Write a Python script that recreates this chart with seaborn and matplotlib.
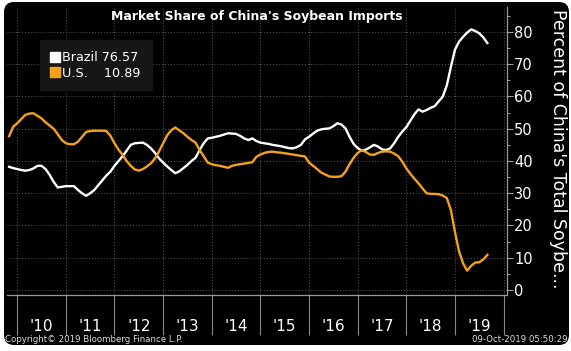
import numpy as np
import pandas as pd
import seaborn as sns
import matplotlib.pyplot as plt
from matplotlib.lines import Line2D
from matplotlib.patches import FancyBboxPatch
from matplotlib.ticker import FixedLocator, NullFormatter
from matplotlib.transforms import IdentityTransform

# monthly share of China's soybean imports (%), Oct 2009 .. Aug 2019
months = pd.date_range("2009-10-31", "2019-08-31", freq="ME")

brazil = [
    38.2, 37.8, 37.5,
    37.2, 37.0, 37.2, 37.7, 38.5, 38.5, 37.5, 35.7, 33.5, 31.8, 32.0, 32.2,
    32.2, 32.2, 31.0, 30.0, 29.2, 30.0, 31.0, 32.5, 34.0, 35.5, 36.7, 38.5,
    40.0, 41.5, 43.2, 45.0, 45.5, 45.6, 45.7, 45.0, 43.9, 42.5, 40.8, 39.5,
    38.3, 37.2, 36.2, 36.8, 37.8, 38.8, 40.0, 41.0, 43.4, 45.5, 47.0, 47.2,
    47.5, 47.8, 48.2, 48.6, 48.5, 48.4, 47.8, 47.0, 46.5, 47.0, 46.2, 45.7,
    45.5, 45.3, 45.0, 44.8, 44.6, 44.3, 44.0, 43.9, 44.3, 45.0, 46.7, 47.5,
    48.5, 49.4, 49.8, 50.0, 50.1, 50.8, 51.7, 51.3, 50.1, 47.5, 45.3, 44.0,
    43.2, 43.5, 44.2, 45.0, 44.5, 43.6, 43.4, 43.9, 45.5, 47.5, 49.1, 50.5,
    52.5, 54.5, 56.0, 55.3, 55.8, 56.5, 57.0, 58.5, 60.0, 63.5, 69.2, 74.5,
    77.0, 78.5, 79.8, 80.8, 80.3, 79.6, 78.3, 76.57,
]

us = [
    47.7, 50.6, 51.7,
    53.0, 54.3, 54.7, 54.8, 54.0, 53.2, 52.0, 51.0, 50.0, 48.3, 46.5, 45.5,
    45.2, 45.2, 46.0, 47.5, 49.0, 49.3, 49.4, 49.4, 49.4, 49.3, 47.8, 45.5,
    43.5, 41.9, 40.0, 38.5, 37.4, 37.0, 37.5, 38.3, 39.3, 40.8, 43.0, 45.5,
    48.0, 49.5, 50.4, 49.5, 48.6, 47.5, 46.5, 45.7, 43.4, 41.5, 39.5, 39.0,
    38.7, 38.5, 38.2, 37.9, 38.5, 38.8, 39.0, 39.2, 39.4, 39.6, 41.3, 42.0,
    42.5, 42.8, 42.9, 42.7, 42.6, 42.4, 42.2, 42.0, 41.8, 41.6, 41.4, 39.5,
    38.5, 37.5, 36.4, 35.8, 35.2, 35.1, 35.1, 35.3, 36.7, 39.0, 41.0, 42.5,
    43.4, 42.8, 42.0, 41.9, 42.5, 42.9, 43.0, 42.9, 42.3, 41.5, 39.8, 37.7,
    36.0, 34.5, 33.1, 31.5, 30.0, 29.8, 29.8, 29.7, 29.3, 28.5, 24.8, 18.0,
    12.0, 8.3, 6.0, 7.5, 8.5, 8.6, 9.5, 10.89,
]

years = list(range(2010, 2021))
year_labels = ["'10", "'11", "'12", "'13", "'14", "'15", "'16", "'17", "'18", "'19"]
countries = ["Brazil", "U.S."]
colors = {"Brazil": "#ffffff", "U.S.": "#f5a21b"}

t = months.year + months.month / 12.0
df = pd.concat([
    pd.DataFrame({"t": t, "share": brazil, "country": "Brazil"}),
    pd.DataFrame({"t": t, "share": us, "country": "U.S."}),
])

fig = plt.figure(figsize=(5.71, 3.51), dpi=100, facecolor="white")
# rounded black terminal background
bg = FancyBboxPatch((4, 6), 565, 343, boxstyle="round,pad=0,rounding_size=10",
                    transform=IdentityTransform(), facecolor="black",
                    edgecolor="none", zorder=-5)
fig.patches.append(bg)

ax = fig.add_axes([7 / 571, 56 / 351, 500 / 571, 288 / 351])
ax.set_zorder(2)
ax.set_facecolor("black")

sns.lineplot(data=df, x="t", y="share", hue="country", palette=colors,
             linewidth=1.7, legend=False, ax=ax)

ax.set_xlim(2009.79, 2020.07)
ax.set_ylim(-1.55, 87.75)

# x axis: separators at year starts, labels mid-year
ax.xaxis.set_major_locator(FixedLocator(years))
ax.xaxis.set_major_formatter(NullFormatter())
ax.xaxis.set_minor_locator(FixedLocator([y + 0.5 for y in years[:-1]]))
ax.set_xticklabels(year_labels, minor=True)
ax.tick_params(axis="x", which="major", direction="out", length=29,
               width=0.8, color="#8a8a8a")
ax.tick_params(axis="x", which="minor", length=0, pad=17,
               labelsize=11, labelcolor="white")

# y axis on the right
ax.yaxis.tick_right()
ax.set_yticks(range(0, 90, 10))
ax.set_yticks(range(5, 90, 10), minor=True)
ax.tick_params(axis="y", which="major", direction="out", length=4,
               width=0.8, color="#a0a0a0", labelsize=10.5,
               labelcolor="white", pad=1)
ax.tick_params(axis="y", which="minor", direction="out", length=2.5,
               width=0.7, color="#a0a0a0")
ax.set_xlabel("")
ax.set_ylabel("")

ax.grid(which="major", color="#5a5a5a", linestyle=(0, (1, 2)), linewidth=0.7)
for side in ["left", "top"]:
    ax.spines[side].set_visible(False)
for side in ["right", "bottom"]:
    ax.spines[side].set_color("#9a9a9a")
    ax.spines[side].set_linewidth(0.9)

ax.text(0.5, 0.966, "Market Share of China's Soybean Imports",
        transform=ax.transAxes, ha="center", va="center",
        color="white", fontsize=9, fontweight="bold")

handles = [Line2D([], [], marker="s", linestyle="none", markersize=6.5,
                  markerfacecolor=colors[c], markeredgecolor=colors[c])
           for c in countries]
labels = ["Brazil %.2f" % brazil[-1], "U.S.    %.2f" % us[-1]]
leg = ax.legend(handles, labels, loc="upper left",
                bbox_to_anchor=(0.066, 0.885), borderaxespad=0,
                frameon=True, fancybox=False, facecolor="#161616",
                edgecolor="#161616", framealpha=1, fontsize=9.2,
                labelcolor="white", handlelength=0.6, handletextpad=0.3,
                borderpad=0.85, labelspacing=0.2)

fig.text(558 / 571, 1 - 9 / 351, "Percent of China's Total Soybe...",
         rotation=270, ha="center", va="top", color="white", fontsize=12.5)
fig.text(5 / 571, 1 - 339 / 351, "Copyright\u00a9 2019 Bloomberg Finance L.P.",
         ha="left", va="center", color="#dddddd", fontsize=6.2)
fig.text(567 / 571, 1 - 339 / 351, "09-Oct-2019 05:50:29",
         ha="right", va="center", color="#dddddd", fontsize=6.2)

fig.savefig("out.png", dpi=100, facecolor="white")
